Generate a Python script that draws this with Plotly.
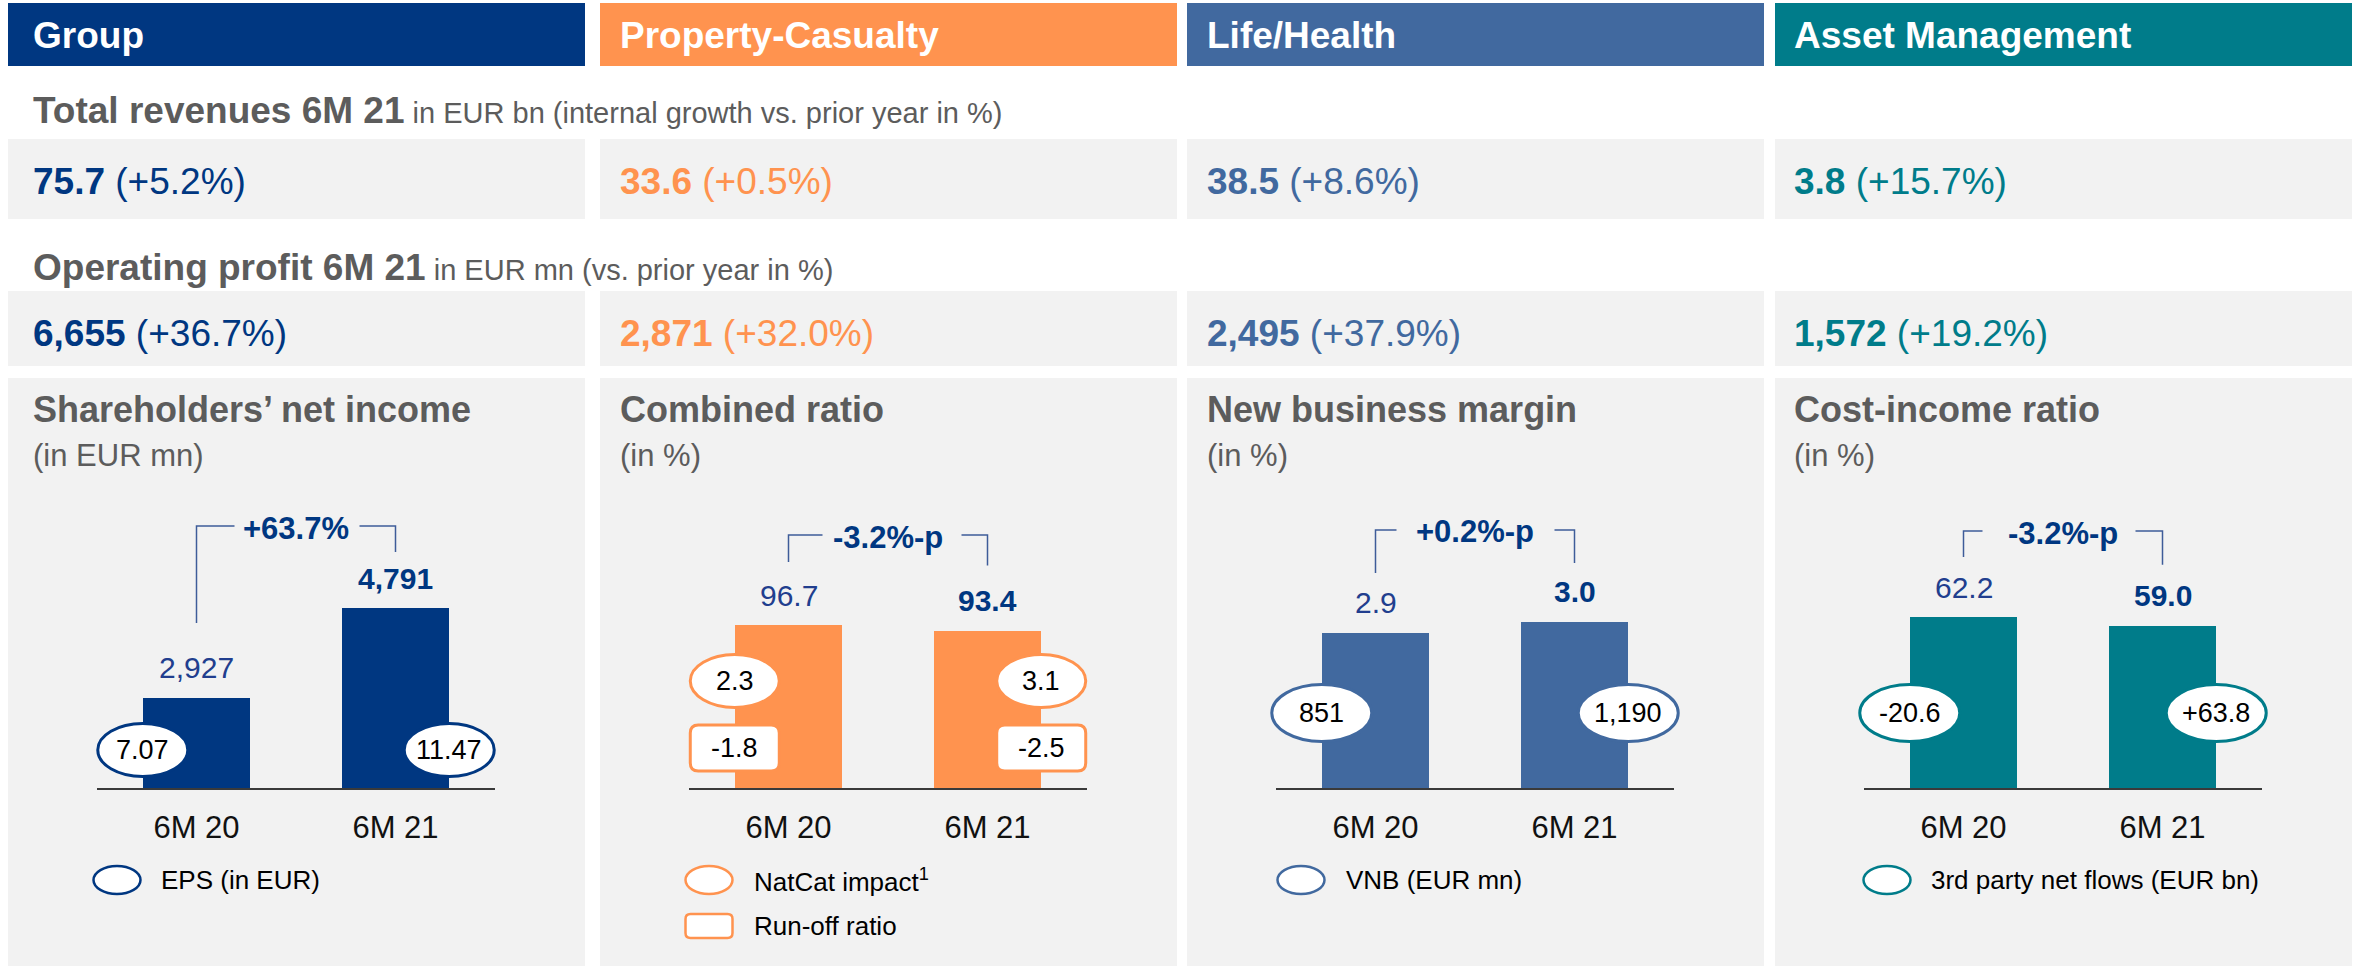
import plotly.graph_objects as go

# ---- data
segments = ["Group", "Property-Casualty", "Life/Health", "Asset Management"]

revenue_values = [75.7, 33.6, 38.5, 3.8]
revenue_growth = [5.2, 0.5, 8.6, 15.7]
op_values = [6655, 2871, 2495, 1572]
op_growth = [36.7, 32.0, 37.9, 19.2]

kpi_titles = ["Shareholders’ net income", "Combined ratio", "New business margin", "Cost-income ratio"]
kpi_units = ["(in EUR mn)", "(in %)", "(in %)", "(in %)"]
periods = ["6M 20", "6M 21"]

net_income = [2927, 4791]
combined_ratio = [96.7, 93.4]
new_business_margin = [2.9, 3.0]
cost_income_ratio = [62.2, 59.0]
kpi_changes = ["+63.7%", "-3.2%-p", "+0.2%-p", "-3.2%-p"]

eps = [7.07, 11.47]
natcat_impact = [2.3, 3.1]
runoff_ratio = [-1.8, -2.5]
vnb = [851, 1190]
net_flows = [-20.6, 63.8]

kpi_values = [net_income, combined_ratio, new_business_margin, cost_income_ratio]
kpi_fmt = [",.0f", ".1f", ".1f", ".1f"]

bubbles = [
    [("ellipse", eps, ".2f")],
    [("ellipse", natcat_impact, ".1f"), ("box", runoff_ratio, ".1f")],
    [("ellipse", vnb, ",.0f")],
    [("ellipse", net_flows, "+.1f")],
]
legends = [
    [("ellipse", "EPS (in EUR)")],
    [("ellipse", "NatCat impact<sup>1</sup>"), ("box", "Run-off ratio")],
    [("ellipse", "VNB (EUR mn)")],
    [("ellipse", "3rd party net flows (EUR bn)")],
]

# ---- styling / geometry (pixels of the 2364x966 page)
W, H = 2364, 966
FONT = "Liberation Sans, Arial, sans-serif"
seg_colors = ["#003781", "#ff934f", "#41699f", "#007c8a"]
PANEL = "#f2f2f2"
TITLE = "#5c5c5c"
NAVY = "#003781"
NAVY_LIGHT = "#213e8e"
BRACKET = "#3e5c99"

col_left = [8, 600, 1187, 1775]
col_w = 577
text_x = [31, 618, 1205, 1792]

base_py, top_py = 789, 470      # chart baseline / top of plotting area
cat_px = 199                    # pixels per category slot
axis_floor = [1040, 0, 1.48, 0]
px_per_unit = [0.04825, 1.696, 109.9, 2.765]
bar_w = 0.54

bubble_h = [[39], [108, 41], [76], [76]]        # px above baseline
bubble_size = [(90, 53), (89, 53), (100, 57), (100, 57)]
box_size = (89, 46)

bracket_gap = [82, 90, 92, 86]
bracket_left = [75, 63, 60, 60]
bracket_right = [56, 65, 59, 61]
stub_left = [38, 34, 21, 19]
stub_right = [36, 26, 20, 27]

legend_mark_x = [109, 109, 114, 112]
legend_text_x = [151, 152, 157, 154]
legend_y = [880, 926]


def px(x):
    return x / W


def py(y):
    return 1 - y / H


def rounded(w, h, r, cx=0, cy=0):
    x0, x1 = cx - w / 2, cx + w / 2
    y0, y1 = cy - h / 2, cy + h / 2
    return (f"M{x0 + r},{y0} L{x1 - r},{y0} Q{x1},{y0} {x1},{y0 + r} "
            f"L{x1},{y1 - r} Q{x1},{y1} {x1 - r},{y1} L{x0 + r},{y1} "
            f"Q{x0},{y1} {x0},{y1 - r} L{x0},{y0 + r} Q{x0},{y0} {x0 + r},{y0} Z")


def txt(x, y, text, size, color, **kw):
    a = dict(x=x, y=y, xref="paper", yref="paper", text=text, showarrow=False,
             xanchor="left", yanchor="middle", font=dict(size=size, color=color, family=FONT))
    a.update(kw)
    return a


fig = go.Figure()
shapes, annos = [], []

# row titles
annos.append(txt(px(31), py(110), "<b>Total revenues 6M 21</b>"
                 "<span style='font-size:29px'> in EUR bn (internal growth vs. prior year in %)</span>", 37, TITLE))
annos.append(txt(px(31), py(267), "<b>Operating profit 6M 21</b>"
                 "<span style='font-size:29px'> in EUR mn (vs. prior year in %)</span>", 37, TITLE))

layout_axes = {}
for i in range(4):
    L = col_left[i]
    R = L + col_w
    c = seg_colors[i]
    n = i + 1
    xa = "x" if n == 1 else f"x{n}"
    ya = "y" if n == 1 else f"y{n}"

    # header bar + grey boxes
    shapes.append(dict(type="rect", xref="paper", yref="paper", x0=px(L), x1=px(R), y0=py(66), y1=py(3),
                       fillcolor=c, line_width=0, layer="below"))
    for t, b in [(139, 219), (291, 366), (378, 966)]:
        shapes.append(dict(type="rect", xref="paper", yref="paper", x0=px(L), x1=px(R), y0=py(b), y1=py(t),
                           fillcolor=PANEL, line_width=0, layer="below"))
    annos.append(txt(px(text_x[i]), py(35), f"<b>{segments[i]}</b>", 37, "white"))

    annos.append(txt(px(text_x[i]), py(181), f"<b>{revenue_values[i]:.1f}</b> ({revenue_growth[i]:+.1f}%)", 37, c))
    annos.append(txt(px(text_x[i]), py(333), f"<b>{op_values[i]:,}</b> ({op_growth[i]:+.1f}%)", 37, c))

    annos.append(txt(px(text_x[i]), py(410), f"<b>{kpi_titles[i]}</b>", 36, TITLE))
    annos.append(txt(px(text_x[i]), py(455), kpi_units[i], 31, TITLE))

    # chart axes
    chart_x0 = L + 89
    ppu = px_per_unit[i]
    lo = axis_floor[i]
    hi = lo + (base_py - top_py) / ppu
    layout_axes["xaxis" if n == 1 else f"xaxis{n}"] = dict(
        domain=[px(chart_x0 - 0.25 * cat_px), px(chart_x0 + 2.25 * cat_px)], range=[-0.75, 1.75],
        anchor=ya, tickvals=[0, 1], ticktext=periods, showgrid=False, zeroline=False, showline=False,
        ticks="outside", ticklen=11, tickcolor="rgba(0,0,0,0)",
        tickfont=dict(size=31, color="#111111", family=FONT), fixedrange=True)
    layout_axes["yaxis" if n == 1 else f"yaxis{n}"] = dict(
        domain=[py(base_py), py(top_py)], range=[lo, hi], anchor=xa, visible=False, fixedrange=True)

    # baseline
    shapes.append(dict(type="line", xref="paper", yref="paper", x0=px(chart_x0), x1=px(chart_x0 + 2 * cat_px),
                       y0=py(base_py), y1=py(base_py), line=dict(color="#3a3a3a", width=2)))

    vals = kpi_values[i]
    fig.add_trace(go.Bar(x=[0, 1], y=vals, width=bar_w, marker=dict(color=c, line_width=0),
                         xaxis=xa, yaxis=ya, hoverinfo="skip", showlegend=False))

    for j, v in enumerate(vals):
        annos.append(dict(xref=xa, yref=ya, x=j, y=v, yshift=30, showarrow=False,
                          text=(f"<b>{format(v, kpi_fmt[i])}</b>" if j == 1 else format(v, kpi_fmt[i])),
                          xanchor="center", yanchor="middle",
                          font=dict(size=30, color=NAVY if j == 1 else NAVY_LIGHT, family=FONT)))

    # change bracket
    y_top = max(vals) + bracket_gap[i] / ppu
    yl = vals[0] + bracket_left[i] / ppu
    yr = vals[1] + bracket_right[i] / ppu
    sl = stub_left[i] / cat_px
    sr = stub_right[i] / cat_px
    fig.add_trace(go.Scatter(x=[0, 0, sl, None, 1 - sr, 1, 1], y=[yl, y_top, y_top, None, y_top, y_top, yr],
                             mode="lines", line=dict(color=BRACKET, width=1.5), xaxis=xa, yaxis=ya,
                             hoverinfo="skip", showlegend=False))
    annos.append(dict(xref=xa, yref=ya, x=0.5, y=y_top, yshift=-2, showarrow=False, text=f"<b>{kpi_changes[i]}</b>",
                      xanchor="center", yanchor="middle", font=dict(size=31, color=NAVY, family=FONT)))

    # bubbles on the bar edges
    for (kind, bvals, fmt), h in zip(bubbles[i], bubble_h[i]):
        bw, bh = bubble_size[i] if kind == "ellipse" else box_size
        for j, v in enumerate(bvals):
            xc = j - bar_w / 2 if j == 0 else j + bar_w / 2
            common = dict(xref=xa, yref=ya, xsizemode="pixel", ysizemode="pixel", xanchor=xc, yanchor=lo,
                          fillcolor="white", line=dict(color=c, width=3))
            if kind == "ellipse":
                shapes.append(dict(type="circle", x0=-bw / 2, x1=bw / 2, y0=h - bh / 2, y1=h + bh / 2, **common))
            else:
                shapes.append(dict(type="path", path=rounded(bw, bh, 8, 0, h), **common))
            annos.append(dict(xref=xa, yref=ya, x=xc, y=lo, yshift=h, showarrow=False, text=format(v, fmt),
                              xanchor="center", yanchor="middle", font=dict(size=27, color="#000000", family=FONT)))

    # legend keys
    for (kind, label), ly in zip(legends[i], legend_y):
        common = dict(xref="paper", yref="paper", xsizemode="pixel", ysizemode="pixel",
                      xanchor=px(L + legend_mark_x[i]), yanchor=py(ly), fillcolor="white",
                      line=dict(color=c, width=2.5))
        if kind == "ellipse":
            shapes.append(dict(type="circle", x0=-23.5, x1=23.5, y0=-14, y1=14, **common))
        else:
            shapes.append(dict(type="path", path=rounded(47, 24, 5), **common))
        annos.append(txt(px(L + legend_text_x[i]), py(ly), label, 26, "#000000"))

fig.update_layout(
    width=W, height=H,
    margin=dict(l=0, r=0, t=0, b=0),
    paper_bgcolor="white",
    plot_bgcolor="rgba(0,0,0,0)",
    font=dict(family=FONT),
    shapes=shapes,
    annotations=annos,
    bargap=0,
    **layout_axes,
)

# page body has a default 8px margin; drop it so the figure sits at the window origin
fig.write_html("out.html", config={"displayModeBar": False},
               post_script="document.body.style.margin='0';")
